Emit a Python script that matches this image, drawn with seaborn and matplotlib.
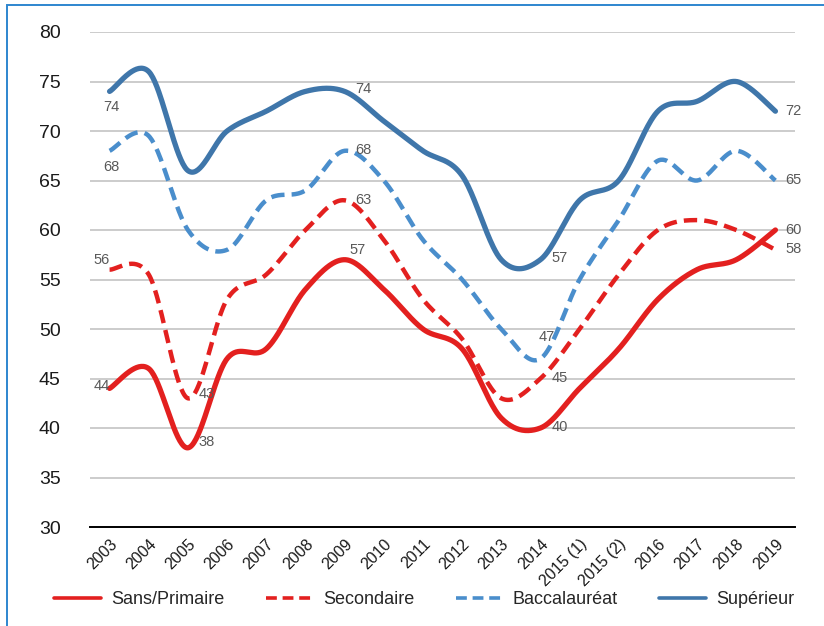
import numpy as np
import pandas as pd
import matplotlib
matplotlib.use("Agg")
import matplotlib.pyplot as plt
from matplotlib.patches import Rectangle
import seaborn as sns

# data
years = ["2003", "2004", "2005", "2006", "2007", "2008", "2009", "2010", "2011",
         "2012", "2013", "2014", "2015 (1)", "2015 (2)", "2016", "2017", "2018", "2019"]
sans_primaire = [44, 46, 38, 47, 48, 54, 57, 54, 50, 48, 41, 40, 44, 48, 53, 56, 57, 60]
secondaire = [56, 55.5, 43, 53, 55.5, 60, 63, 59, 53, 49, 43, 45, 50, 55.5, 60, 61, 60, 58]
baccalaureat = [68, 69.5, 60, 58, 63, 64, 68, 65, 59, 55, 50, 47, 55, 61, 67, 65, 68, 65]
superieur = [74, 76, 66, 70, 72, 74, 74, 71, 68, 65.5, 57, 57, 63, 65, 72, 73, 75, 72]

# which points carry a value label, with offsets in pixels (dx, dy)
labelled = {
    "Sans/Primaire": {0: (-16, 2), 2: (11, 6), 6: (5, 10), 11: (11, 1), 17: (10, 0)},
    "Secondaire": {0: (-16, 10), 2: (11, 4), 6: (11, 0), 11: (11, 0), 17: (10, 1)},
    "Baccalauréat": {0: (-6, -16), 6: (11, 1), 11: (-2, 22), 17: (10, 0)},
    "Supérieur": {0: (-6, -16), 6: (11, 2), 11: (11, 2), 17: (10, 0)},
}


def smooth(x, y, n=40):
    # Excel-like smoothed line: cubic Bezier with Catmull-Rom control points
    x = np.asarray(x, float)
    y = np.asarray(y, float)
    px = np.concatenate([[x[0]], x, [x[-1]]])
    py = np.concatenate([[y[0]], y, [y[-1]]])
    t = np.linspace(0, 1, n)[:, None]
    out_x, out_y = [], []
    for i in range(1, len(px) - 2):
        p0 = np.array([px[i], py[i]])
        p3 = np.array([px[i + 1], py[i + 1]])
        c1 = p0 + (np.array([px[i + 1], py[i + 1]]) - np.array([px[i - 1], py[i - 1]])) / 6
        c2 = p3 - (np.array([px[i + 2], py[i + 2]]) - np.array([px[i], py[i]])) / 6
        seg = ((1 - t) ** 3) * p0 + 3 * ((1 - t) ** 2) * t * c1 + 3 * (1 - t) * t ** 2 * c2 + t ** 3 * p3
        out_x.extend(seg[:, 0])
        out_y.extend(seg[:, 1])
    return np.array(out_x), np.array(out_y)


sns.set_style("white")
plt.rcParams["font.family"] = ["Liberation Sans", "DejaVu Sans"]

red = "#E3201F"
dark_blue = "#3F76AA"
light_blue = "#4A8ECC"

series = [
    ("Sans/Primaire", sans_primaire, red, "-", 3.8),
    ("Secondaire", secondaire, red, (0, (3.0, 1.6)), 3.2),
    ("Baccalauréat", baccalaureat, light_blue, (0, (3.0, 1.6)), 3.2),
    ("Supérieur", superieur, dark_blue, "-", 3.8),
]

fig = plt.figure(figsize=(8.24, 6.26), dpi=100)
ax = fig.add_axes([90 / 824, 1 - 527 / 626, 705 / 824, 495 / 626])

xpos = np.arange(len(years))
handles = []
for name, vals, color, ls, lw in series:
    sx, sy = smooth(xpos, vals)
    df = pd.DataFrame({"x": sx, "y": sy})
    sns.lineplot(data=df, x="x", y="y", ax=ax, color=color, linewidth=lw,
                 sort=False, estimator=None, zorder=3)
    line = ax.lines[-1]
    line.set_linestyle(ls)
    line.set_solid_capstyle("round")
    line.set_dash_capstyle("butt")
    handles.append(plt.Line2D([], [], color=color, linestyle=ls, linewidth=2.6, label=name))
    for idx, (dx, dy) in labelled[name].items():
        ax.annotate(f"{vals[idx]:g}", (xpos[idx], vals[idx]),
                    xytext=(dx * 0.72, dy * 0.72), textcoords="offset points",
                    ha="left", va="center", fontsize=10.5, color="#595959", zorder=4)

ax.set_xlim(-0.5, len(years) - 0.5)
ax.set_ylim(30, 80)
ax.set_yticks(range(30, 81, 5))
ax.set_xticks(xpos)
ax.set_xticklabels(years, rotation=45, ha="right", rotation_mode="anchor", fontsize=11.5)
ax.tick_params(axis="y", length=0, pad=21, labelsize=14, labelcolor="#1a1a1a")
ax.tick_params(axis="x", length=0, pad=7, labelcolor="#1a1a1a")
ax.set_xlabel("")
ax.set_ylabel("")
ax.grid(axis="y", color="#BFBFBF", linewidth=1.1)
ax.set_axisbelow(True)
for side in ["left", "right", "top"]:
    ax.spines[side].set_visible(False)
ax.spines["bottom"].set_color("black")
ax.spines["bottom"].set_linewidth(1.4)
ax.spines["bottom"].set_zorder(2)

fig.legend(handles=handles, loc="center", bbox_to_anchor=(0.515, 1 - 600 / 626), ncol=4,
           frameon=False, fontsize=13, handlelength=2.6, columnspacing=2.3, handletextpad=0.55)

# blue frame around the chart (only left and top edges fall inside the picture)
fig.patches.append(Rectangle((7 / 824, -0.2), 1.2, 1.2 - 5 / 626, transform=fig.transFigure,
                             fill=False, edgecolor="#2E86CF", linewidth=1.4))

fig.savefig("out.png", dpi=100)
